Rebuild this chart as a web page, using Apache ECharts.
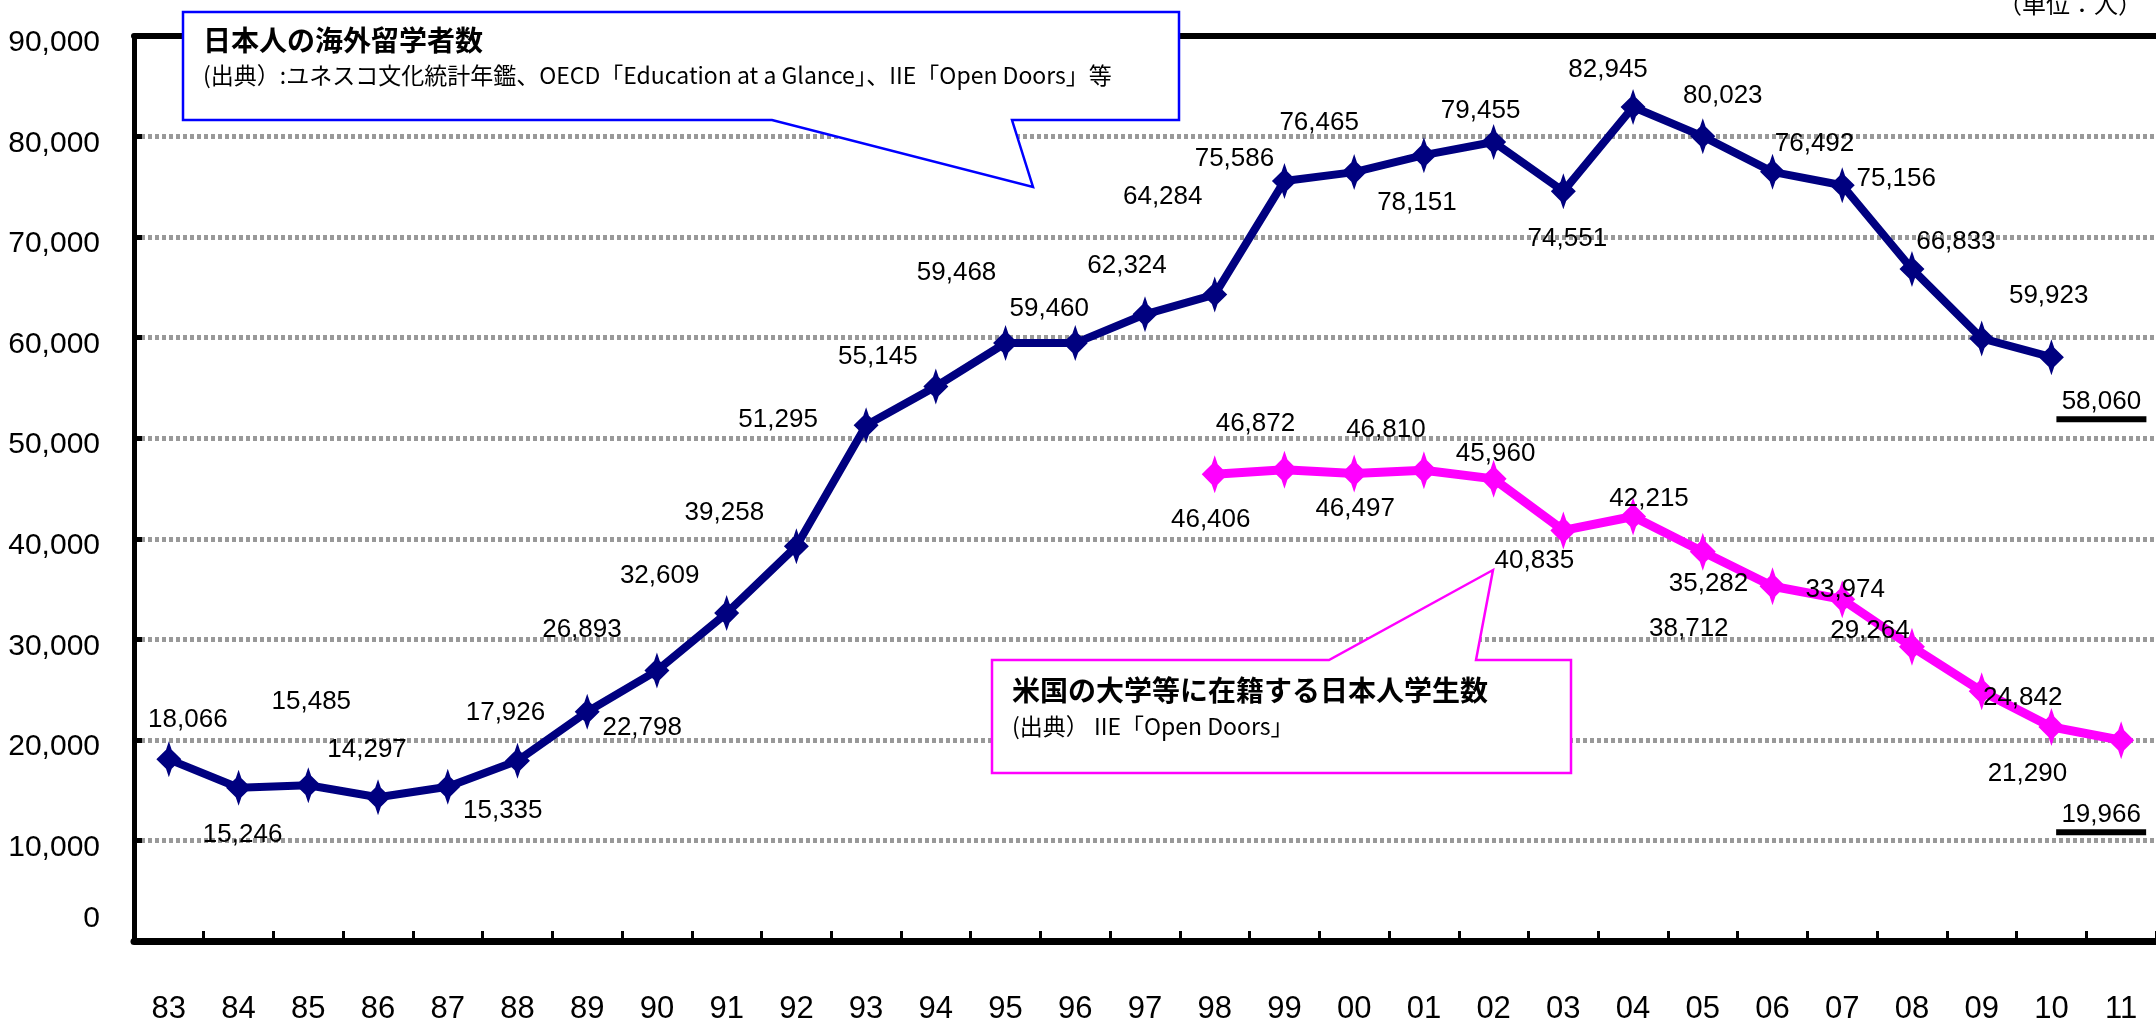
<!DOCTYPE html>
<html>
<head>
<meta charset="utf-8">
<script src="https://cdn.jsdelivr.net/npm/echarts@6/dist/echarts.min.js"></script>
<style>
html,body{margin:0;padding:0;background:#fff;}
#chart{width:2156px;height:1029px;}
</style>
</head>
<body>
<div id="chart"></div>
<script>
// ---- data ----
const years = ['83','84','85','86','87','88','89','90','91','92','93','94','95','96','97','98','99','00','01','02','03','04','05','06','07','08','09','10','11'];
const overseasStudents = [18066,15246,15485,14297,15335,17926,22798,26893,32609,39258,51295,55145,59468,59460,62324,64284,75586,76465,78151,79455,74551,82945,80023,76492,75156,66833,59923,58060,null];
const usStudents = [null,null,null,null,null,null,null,null,null,null,null,null,null,null,null,46406,46872,46497,46810,45960,40835,42215,38712,35282,33974,29264,24842,21290,19966];
const yMin = 0, yMax = 90000, yStep = 10000;

const overseasTitle = '日本人の海外留学者数';
const overseasSource = '(出典）:ユネスコ文化統計年鑑、OECD「Education at a Glance」、IIE「Open Doors」等';
const usTitle = '米国の大学等に在籍する日本人学生数';
const usSource = '(出典） IIE「Open Doors」';
const unitText = '（単位：人）';

// ---- label placement (style, not data) ----
const overseasLabelOffsets = [[19,-40],[4,47],[3,-83],[-11,-47],[55,24],[-12,-48],[55,16],[-75,-41],[-67,-37],[-72,-33],[-88,-5],[-58,-30],[-49,-70],[-26,-34],[-18,-48],[-52,-98],[-50,-22],[-35,-49],[-7,48],[-13,-31],[4,47],[-25,-37],[20,-40],[42,-28],[54,-6],[44,-27],[67,-43],[50,45],null];
const usLabelOffsets = [null,null,null,null,null,null,null,null,null,null,null,null,null,null,null,[-4,45],[-29,-46],[1,35],[-38,-40],[2,-25],[-29,30],[16,-18],[-14,77],[-64,-2],[3,-10],[-42,-16],[41,7],[-24,47],[-20,75]];
const overseasUnderlined = 27;
const usUnderlined = 28;

const NUMFONT = "'Liberation Sans',Arial,sans-serif";
const CJK = "'Noto Sans CJK JP','Noto Sans',sans-serif";
const fmt = v => Number(v).toLocaleString('en-US');
const starPath = 'path://M0,-17 L2.5,-9 L11,0 L2.5,9 L0,17 L-2.5,9 L-11,0 L-2.5,-9 Z';

function buildData(values, offsets, underlineIdx) {
  return values.map((v, i) => {
    if (v == null) return null;
    const item = { value: v, label: { offset: offsets[i] } };
    if (i === underlineIdx) {
      item.label.offset = [offsets[i][0], offsets[i][1] + 3];
      item.label.formatter = p => '{v|' + fmt(p.value) + '}\n{u|}';
    }
    return item;
  });
}

const labelRich = {
  v: { fontFamily: NUMFONT, fontSize: 26, color: '#000', lineHeight: 28 },
  u: { backgroundColor: '#000', height: 6, width: 90, lineHeight: 6, fontSize: 6 }
};

const chart = echarts.init(document.getElementById('chart'), null, { renderer: 'canvas' });

const option = {
  backgroundColor: '#fff',
  animation: false,
  grid: { left: 134, right: 0, top: 36, bottom: 88, containLabel: false },
  xAxis: [{
    type: 'category',
    data: years,
    boundaryGap: true,
    axisLine: { show: true, lineStyle: { color: '#000', width: 7 } },
    axisTick: { show: true, inside: true, length: 10, lineStyle: { color: '#000', width: 3 } },
    axisLabel: { fontFamily: NUMFONT, fontSize: 31, color: '#000', margin: 53 },
    splitLine: { show: false }
  }, {
    type: 'category',
    data: years,
    position: 'top',
    boundaryGap: true,
    axisLine: { show: true, lineStyle: { color: '#000', width: 6 } },
    axisTick: { show: false },
    axisLabel: { show: false },
    splitLine: { show: false }
  }],
  yAxis: {
    type: 'value',
    min: yMin, max: yMax, interval: yStep,
    axisLine: { show: true, lineStyle: { color: '#000', width: 5 } },
    axisTick: { show: true, inside: true, length: 8, lineStyle: { color: '#000', width: 5 } },
    axisLabel: {
      fontFamily: NUMFONT, fontSize: 30, color: '#000', margin: 34,
      formatter: v => v === 0 ? '{z|0}' : '{n|' + fmt(v) + '}',
      rich: {
        n: { fontFamily: NUMFONT, fontSize: 30, color: '#000', padding: [14, 0, 0, 0] },
        z: { fontFamily: NUMFONT, fontSize: 30, color: '#000', padding: [0, 0, 44, 0] }
      }
    },
    splitLine: { show: true, lineStyle: { color: '#999999', width: 5, type: [4, 3] } }
  },
  series: [{
    name: overseasTitle,
    type: 'line',
    xAxisIndex: 0,
    data: buildData(overseasStudents, overseasLabelOffsets, overseasUnderlined),
    connectNulls: false,
    lineStyle: { color: '#000080', width: 8 },
    itemStyle: { color: '#000080' },
    symbol: starPath,
    symbolSize: [25, 36],
    label: {
      show: true, position: 'inside', formatter: p => fmt(p.value),
      fontFamily: NUMFONT, fontSize: 26, color: '#000', rich: labelRich
    },
    z: 3
  }, {
    name: usTitle,
    type: 'line',
    xAxisIndex: 0,
    data: buildData(usStudents, usLabelOffsets, usUnderlined),
    connectNulls: false,
    lineStyle: { color: '#FF00FF', width: 9 },
    itemStyle: { color: '#FF00FF' },
    symbol: starPath,
    symbolSize: [26, 38],
    label: {
      show: true, position: 'inside', formatter: p => fmt(p.value),
      fontFamily: NUMFONT, fontSize: 26, color: '#000', rich: labelRich
    },
    z: 3
  }],
  graphic: [
    {
      type: 'polygon', z: 50,
      shape: { points: [[183,12],[1179,12],[1179,120],[1012,120],[1033,187],[772,120],[183,120]] },
      style: { fill: '#fff', stroke: '#0000FF', lineWidth: 2.5 }
    },
    {
      type: 'text', z: 51, x: 203, y: 40,
      style: { text: overseasTitle, font: 'bold 28px ' + CJK, fill: '#000', align: 'left', verticalAlign: 'middle' }
    },
    {
      type: 'text', z: 51, x: 203, y: 75,
      style: { text: overseasSource, font: '23px ' + CJK, fill: '#000', align: 'left', verticalAlign: 'middle' }
    },
    {
      type: 'polygon', z: 50,
      shape: { points: [[992,660],[1329,660],[1493,570],[1476,660],[1571,660],[1571,773],[992,773]] },
      style: { fill: '#fff', stroke: '#FF00FF', lineWidth: 2.5 }
    },
    {
      type: 'text', z: 51, x: 1012, y: 690,
      style: { text: usTitle, font: 'bold 28px ' + CJK, fill: '#000', align: 'left', verticalAlign: 'middle' }
    },
    {
      type: 'text', z: 51, x: 1012, y: 726,
      style: { text: usSource, font: '23px ' + CJK, fill: '#000', align: 'left', verticalAlign: 'middle' }
    },
    {
      type: 'text', z: 51, x: 2142, y: 4,
      style: { text: unitText, font: '24px ' + CJK, fill: '#000', align: 'right', verticalAlign: 'middle' }
    }
  ]
};
chart.setOption(option);
</script>
</body>
</html>
